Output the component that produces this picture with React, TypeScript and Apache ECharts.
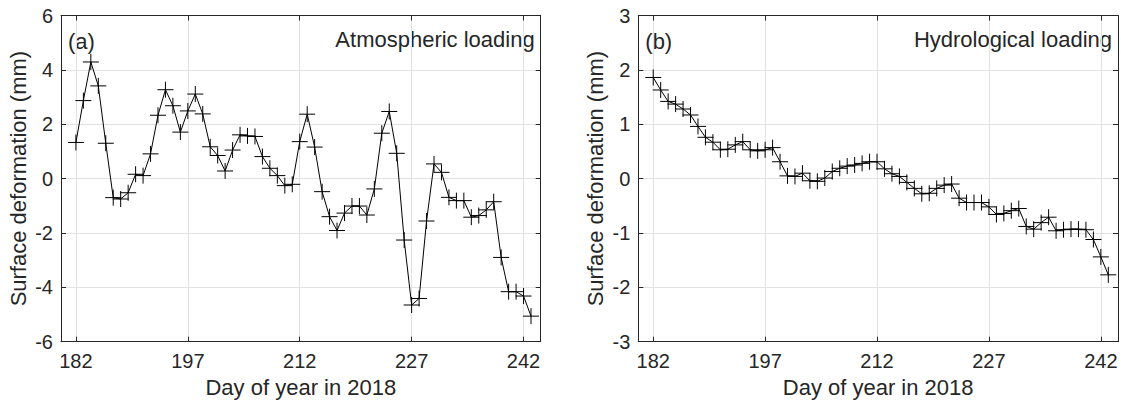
import React, { useEffect, useRef } from "react";
import * as echarts from "echarts";

const days = [
  182, 183, 184, 185, 186, 187, 188, 189, 190, 191, 192, 193, 194, 195, 196, 197,
  198, 199, 200, 201, 202, 203, 204, 205, 206, 207, 208, 209, 210, 211, 212, 213,
  214, 215, 216, 217, 218, 219, 220, 221, 222, 223, 224, 225, 226, 227, 228, 229,
  230, 231, 232, 233, 234, 235, 236, 237, 238, 239, 240, 241, 242, 243,
];

const atmospheric = [
  1.33, 2.87, 4.29, 3.41, 1.3, -0.7, -0.75, -0.52, 0.16, 0.11, 0.91, 2.33, 3.27, 2.68, 1.71, 2.49,
  3.11, 2.38, 1.17, 0.85, 0.28, 1.05, 1.61, 1.57, 1.55, 0.81, 0.38, 0.11, -0.26, -0.21, 1.36, 2.37,
  1.16, -0.48, -1.4, -1.91, -1.27, -1.01, -1.01, -1.34, -0.38, 1.67, 2.47, 0.93, -2.26, -4.65, -4.41, -1.56,
  0.54, 0.23, -0.69, -0.81, -0.81, -1.42, -1.36, -1.15, -0.85, -2.9, -4.16, -4.16, -4.32, -5.06,
];

const hydrological = [
  1.86, 1.63, 1.42, 1.37, 1.28, 1.17, 0.96, 0.76, 0.67, 0.53, 0.54, 0.62, 0.68, 0.53, 0.51, 0.53,
  0.57, 0.31, 0.05, 0.04, 0.1, -0.04, -0.05, 0.01, 0.13, 0.19, 0.23, 0.25, 0.28, 0.31, 0.31, 0.18,
  0.09, 0.04, -0.07, -0.18, -0.28, -0.27, -0.18, -0.12, -0.1, -0.36, -0.44, -0.44, -0.44, -0.52, -0.66, -0.64,
  -0.59, -0.55, -0.88, -0.93, -0.81, -0.71, -0.96, -0.94, -0.93, -0.93, -0.94, -1.12, -1.44, -1.77,
];

const xTicks = [182, 197, 212, 227, 242];
const panelLabels = ["(a)", "(b)"];
const panelTitles = ["Atmospheric loading", "Hydrological loading"];
const yMins = [-6, -3];
const yMaxs = [6, 3];
const yIntervals = [2, 1];
const xName = "Day of year in 2018";
const yName = "Surface deformation (mm)";

const FONT = "'Liberation Sans', Arial, Helvetica, sans-serif";
const TXT = "#262626";
const GRIDC = "#e2e2e2";
const X_MIN = 180;
const X_MAX = 244.3;

export default function App() {
  const ref = useRef<HTMLDivElement>(null);
  useEffect(() => {
    const chart = echarts.init(ref.current!, null, { renderer: "svg" });
    const grids = [
      { left: 61, top: 15.5, width: 479.7, height: 326.2 },
      { left: 638.3, top: 15.5, width: 479.7, height: 326.2 },
    ];
    const plus = "path://M0,-1L0,1M-1,0L1,0";
    const series = [atmospheric, hydrological];
    const xAxis: any[] = [];
    const yAxis: any[] = [];
    const seriesOpt: any[] = [];
    const graphic: any[] = [];
    grids.forEach((g, i) => {
      const line = { show: true, onZero: false, lineStyle: { color: TXT, width: 1 } };
      const tick = { show: true, inside: true, length: 5, lineStyle: { color: TXT, width: 1 } };
      xAxis.push({
        type: "value",
        gridIndex: i,
        min: X_MIN,
        max: X_MAX,
        position: "bottom",
        axisLine: line,
        axisTick: { ...tick, customValues: xTicks },
        axisLabel: { customValues: xTicks, fontSize: 20, color: TXT, fontFamily: FONT, margin: 9 },
        splitLine: { show: true, lineStyle: { color: GRIDC, width: 1 } },
        name: xName,
        nameLocation: "middle",
        nameGap: 35,
        nameTextStyle: { fontSize: 22, color: TXT, fontFamily: FONT },
      });
      xAxis.push({
        type: "value",
        gridIndex: i,
        min: X_MIN,
        max: X_MAX,
        position: "top",
        axisLine: line,
        axisTick: { ...tick, customValues: xTicks },
        axisLabel: { show: false },
        splitLine: { show: false },
      });
      yAxis.push({
        type: "value",
        gridIndex: i,
        min: yMins[i],
        max: yMaxs[i],
        interval: yIntervals[i],
        position: "left",
        axisLine: line,
        axisTick: tick,
        axisLabel: { fontSize: 20, color: TXT, fontFamily: FONT, margin: 8 },
        splitLine: { show: true, lineStyle: { color: GRIDC, width: 1 } },
        name: yName,
        nameLocation: "middle",
        nameGap: 32,
        nameRotate: 90,
        nameTextStyle: { fontSize: 22, color: TXT, fontFamily: FONT },
      });
      yAxis.push({
        type: "value",
        gridIndex: i,
        min: yMins[i],
        max: yMaxs[i],
        interval: yIntervals[i],
        position: "right",
        axisLine: line,
        axisTick: tick,
        axisLabel: { show: false },
        splitLine: { show: false },
      });
      seriesOpt.push({
        type: "line",
        xAxisIndex: 2 * i,
        yAxisIndex: 2 * i,
        data: days.map((d, k) => [d, series[i][k]]),
        symbol: plus,
        symbolSize: 16,
        showSymbol: true,
        lineStyle: { color: "#000", width: 1 },
        itemStyle: { color: "#000", borderColor: "#000", borderWidth: 1 },
        z: 3,
      });
      graphic.push({
        type: "text",
        x: g.left + 7,
        y: 41,
        style: {
          text: panelLabels[i],
          fontSize: 22,
          fontFamily: FONT,
          fill: TXT,
          align: "left",
          verticalAlign: "middle",
        },
      });
      graphic.push({
        type: "text",
        x: g.left + g.width - 6,
        y: 39.5,
        style: {
          text: panelTitles[i],
          fontSize: 22,
          fontFamily: FONT,
          fill: TXT,
          align: "right",
          verticalAlign: "middle",
        },
      });
    });
    chart.setOption({
      animation: false,
      backgroundColor: "#fff",
      grid: grids,
      xAxis,
      yAxis,
      series: seriesOpt,
      graphic,
    });
    return () => chart.dispose();
  }, []);
  return (
    <div
      ref={ref}
      style={{ position: "absolute", left: 0, top: 0, width: 1121, height: 404 }}
    />
  );
}
